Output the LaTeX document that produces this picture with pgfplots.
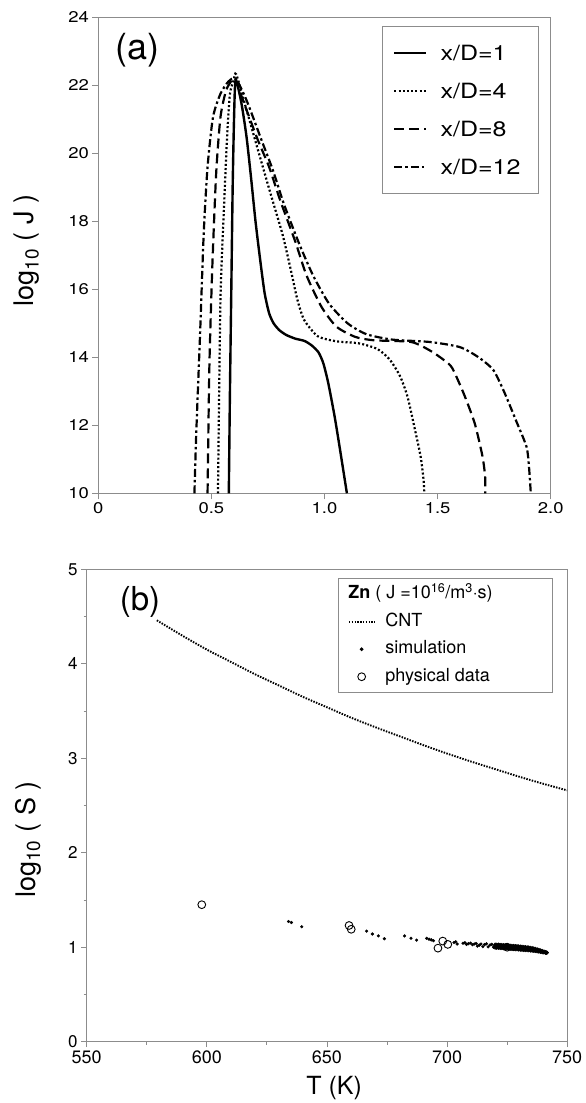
\documentclass[border=0pt]{standalone}
\usepackage{fontspec}
\setmainfont{TeX Gyre Heros}
\newfontfamily\widefont[FakeStretch=1.19]{TeX Gyre Heros}
\usepackage{pgfplots}
\pgfplotsset{compat=1.18}
\usepackage{pgfplotstable}

\definecolor{axgray}{gray}{0.55}

% dense part of the simulated Zn points: upper, middle and lower rows of the cloud
\pgfplotstableread{
T     up     mid    lo
720.0 1.030 1.012 0.994
720.7 1.028 1.010 0.993
721.4 1.029 1.011 0.992
722.1 1.026 1.008 0.990
722.8 1.025 1.007 0.989
723.5 1.024 1.006 0.988
724.2 1.022 1.004 0.986
724.9 1.021 1.003 0.985
725.6 1.019 1.001 0.983
726.3 1.018 1.000 0.982
727.0 1.016 0.998 0.980
727.7 1.015 0.997 0.979
728.4 1.013 0.995 0.977
729.1 1.012 0.994 0.976
729.8 1.010 0.992 0.974
730.5 1.008 0.990 0.973
731.2 1.006 0.989 0.971
731.9 1.004 0.987 0.970
732.6 1.002 0.985 0.968
733.3 1.000 0.984 0.967
734.0 0.998 0.982 0.966
734.7 0.995 0.980 0.964
735.4 0.992 0.977 0.962
736.1 0.988 0.974 0.960
736.8 0.984 0.971 0.958
737.5 0.979 0.967 0.955
738.2 0.974 0.963 0.952
738.9 0.968 0.959 0.949
739.6 0.962 0.954 0.946
740.3 0.956 0.949 0.943
741.0 0.950 0.945 0.940
741.5 0.946 0.942 0.939
}\simband

\pgfplotsset{
  paneltext/.style={
    axis line style={axgray, line width=0.9pt},
    tick style={axgray, line width=0.9pt},
    tick align=outside,
    tick pos=left,
    /pgf/number format/assume math mode=true,
  },
  longleg/.style={legend image code/.code={\draw[##1] (0pt,0pt) -- (31.7pt,0pt);}},
  shortleg/.style={legend image code/.code={\draw[##1] (0pt,0pt) -- (25.5pt,0pt);}},
  markleg/.style={legend image code/.code={\draw[mark repeat=2,mark phase=2,##1]
    plot coordinates {(0pt,0pt) (12.75pt,0pt) (25.5pt,0pt)};}},
}

\begin{document}
\begin{tikzpicture}
\path[use as bounding box] (0pt,0pt) rectangle (586pt,1103pt);

% ---------------- (a) nucleation rate along the jet ----------------
\begin{axis}[
  paneltext,
  at={(98.3pt,609.7pt)}, anchor=south west,
  scale only axis, width=452.4pt, height=476pt,
  xmin=0, xmax=2, ymin=10, ymax=24,
  xtick={0,0.5,1,1.5,2}, xticklabels={0,0.5,1.0,1.5,2.0},
  ytick={10,12,14,16,18,20,22,24},
  major tick length=6pt,
  tick label style={font=\widefont\fontsize{15.5}{18}\selectfont, text=black},
  ylabel={log\textsubscript{10} ( J )},
  ylabel style={at={(axis description cs:-0.158,0.51)}, anchor=center,
    font=\fontsize{27}{30}\selectfont},
  longleg,
  legend style={at={(axis description cs:0.6265,0.981)}, anchor=north west,
    draw=axgray, line width=0.9pt, inner xsep=11pt, inner ysep=19pt,
    font=\widefont\fontsize{21}{24}\selectfont, row sep=23pt,
    nodes={inner sep=0pt, text height=15pt, text depth=0pt},
    /tikz/every odd column/.append style={column sep=13.3pt}},
  legend cell align=left,
]
\addplot[black, line width=2.4pt, smooth, tension=0.4] coordinates {
  (0.577,10) (0.582,13) (0.588,16) (0.594,19) (0.600,21) (0.607,22.15)
  (0.632,21.5) (0.655,20.5) (0.675,19.3) (0.695,18.0) (0.715,16.9)
  (0.735,15.9) (0.755,15.3) (0.775,15.0) (0.800,14.8) (0.830,14.66)
  (0.870,14.55) (0.912,14.48) (0.945,14.34) (0.974,14.14) (0.995,13.82)
  (1.017,13.23) (1.045,12.25) (1.069,11.27) (1.099,10.0)};
\addlegendentry{x/D=1}
\addplot[black, line width=2.2pt, dash pattern=on 2pt off 2.2pt, smooth, tension=0.4] coordinates {
  (0.529,10) (0.540,15.68) (0.557,18.62) (0.570,20.57) (0.582,21.75)
  (0.598,22.14) (0.610,22.32) (0.656,21.26) (0.710,20.0) (0.762,18.8)
  (0.815,17.6) (0.850,16.6) (0.880,15.7) (0.910,15.1) (0.970,14.62)
  (1.053,14.47) (1.152,14.41) (1.235,14.24) (1.290,13.92) (1.335,13.43)
  (1.367,12.84) (1.397,11.96) (1.425,11.08) (1.438,10.39) (1.441,10)};
\addlegendentry{x/D=4}
\addplot[black, line width=2.2pt, dash pattern=on 10pt off 5pt, smooth, tension=0.4] coordinates {
  (0.483,10) (0.491,13.72) (0.504,16.66) (0.521,19.4) (0.540,21.06)
  (0.565,21.85) (0.590,22.14) (0.605,22.2) (0.640,21.55) (0.706,20.38)
  (0.755,19.6) (0.805,18.6) (0.871,17.4) (0.921,16.4) (0.987,15.48)
  (1.053,14.9) (1.136,14.6) (1.218,14.5) (1.383,14.45) (1.466,14.2)
  (1.532,13.9) (1.565,13.68) (1.615,12.94) (1.664,12.06) (1.698,11.1)
  (1.710,10.5) (1.711,10)};
\addlegendentry{x/D=8}
\addplot[black, line width=2.2pt, dash pattern=on 8pt off 3pt on 2.5pt off 3pt, smooth, tension=0.4] coordinates {
  (0.425,10) (0.433,11.76) (0.450,14.7) (0.466,17.64) (0.483,19.6)
  (0.507,21.06) (0.540,21.75) (0.574,22.1) (0.607,22.2) (0.656,21.55)
  (0.722,20.38) (0.772,19.5) (0.821,18.5) (0.888,17.34) (0.950,16.4)
  (1.020,15.58) (1.102,15.0) (1.185,14.68) (1.300,14.52) (1.466,14.45)
  (1.598,14.3) (1.681,14.0) (1.747,13.62) (1.797,12.94) (1.846,12.15)
  (1.893,11.37) (1.904,10.78) (1.912,10)};
\addlegendentry{x/D=12\hspace*{7pt}}
\node[font=\fontsize{36}{40}\selectfont] at (axis description cs:0.0856,0.931) {(a)};
\end{axis}

% ---------------- (b) supersaturation against temperature ----------------
\begin{axis}[
  paneltext,
  at={(86.7pt,61.3pt)}, anchor=south west,
  scale only axis, width=480.5pt, height=472.4pt,
  xmin=550, xmax=750, ymin=0, ymax=5,
  xtick={550,600,650,700,750}, ytick={0,1,2,3,4,5},
  minor x tick num=1, minor y tick num=1,
  major tick length=5.5pt, minor tick length=3pt,
  minor tick style={axgray, line width=0.8pt},
  yticklabel style={font=\fontsize{17}{20}\selectfont, text=black},
  xticklabel style={font=\fontsize{18}{21}\selectfont, text=black},
  ylabel={log\textsubscript{10} ( S )},
  ylabel style={at={(axis description cs:-0.122,0.428)}, anchor=center,
    font=\fontsize{27}{30}\selectfont},
  xlabel={T (K)},
  xlabel style={at={(axis description cs:0.515,-0.0975)}, anchor=center,
    font=\fontsize{25}{28}\selectfont},
  legend style={at={(axis description cs:0.522,0.981)}, anchor=north west,
    draw=axgray, line width=0.9pt, inner xsep=10pt, inner ysep=7pt,
    font=\fontsize{18}{21}\selectfont, row sep=10.5pt,
    nodes={inner sep=0pt, text height=13pt, text depth=4pt},
    /tikz/every odd column/.append style={column sep=10pt}},
  legend cell align=left,
]
\addlegendimage{empty legend}
\addlegendentry{\hspace*{-37pt}\textbf{Zn} ( J =10\textsuperscript{16}/m\textsuperscript{3}$\cdot$s)\hspace*{50pt}}

\addplot[black, line width=1.9pt, dash pattern=on 1.5pt off 1.3pt, smooth, shortleg] coordinates {
  (579.2,4.46) (590,4.295) (600,4.15) (610,4.02) (620,3.89) (630,3.77)
  (640,3.65) (650,3.54) (660,3.43) (670,3.33) (680,3.235) (690,3.14)
  (700,3.05) (710,2.965) (720,2.885) (730,2.805) (740,2.73) (750,2.66)};
\addlegendentry{CNT}

\addplot[only marks, mark=*, mark size=1.4pt, black, markleg] coordinates {
  (634.0,1.272) (635.2,1.262) (639.5,1.217) (666.5,1.170) (668.9,1.140)
  (671.4,1.120) (673.9,1.090) (682.3,1.120) (685.0,1.095) (687.3,1.075)
  (691.5,1.094) (692.5,1.085) (693.4,1.078) (694.3,1.069) (702.9,1.050)
  (703.6,1.058) (704.2,1.034) (706.6,1.042) (707.4,1.048) (708.1,1.030)
  (708.9,1.038) (709.8,1.044) (710.6,1.026) (711.3,1.034) (712.1,1.040)
  (712.6,1.012) (713.4,1.022) (714.1,1.033) (714.9,1.006) (715.6,1.028)
  (716.4,1.036) (717.1,1.004) (717.9,1.024) (718.6,1.030) (719.3,1.000)
  (719.9,1.020)};
\addlegendentry{simulation}
\addplot[only marks, mark=*, mark size=1.7pt, black, forget plot] table[x=T, y=up] {\simband};
\addplot[only marks, mark=*, mark size=1.7pt, black, forget plot] table[x=T, y=mid] {\simband};
\addplot[only marks, mark=*, mark size=1.7pt, black, forget plot] table[x=T, y=lo] {\simband};

\addplot[only marks, mark=o, mark size=3.9pt, black, line width=0.9pt,
  mark options={fill=white}, markleg] coordinates {
  (597.9,1.45) (659.2,1.23) (660.1,1.19) (696.2,0.99) (698.2,1.065)
  (700.3,1.03) (725.0,1.00)};
\addlegendentry{physical data}

\node[font=\fontsize{33}{38}\selectfont] at (axis description cs:0.111,0.931) {(b)};
\end{axis}
\end{tikzpicture}
\end{document}
